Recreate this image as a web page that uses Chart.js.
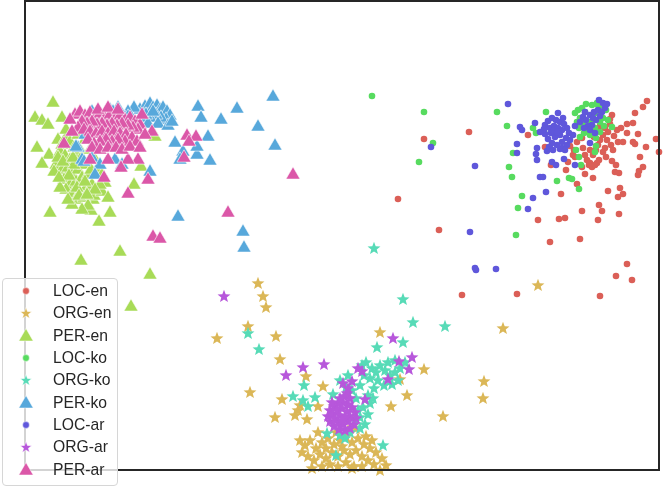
<!DOCTYPE html>
<html>
<head>
<meta charset="utf-8">
<script src="https://cdn.jsdelivr.net/npm/chart.js@4.4.0/dist/chart.umd.min.js"></script>
<style>
  html, body { margin: 0; padding: 0; background: #fff; }
  #wrap { position: relative; width: 664px; height: 486px; overflow: hidden; }
  #legend { position: absolute; left: 2px; top: 278px; width: 114px; height: 206px;
    border: 1px solid #d6d6d6; border-radius: 4px; background: rgba(255,255,255,0.8);
    font-family: "Liberation Sans", Arial, sans-serif; font-size: 15.7px; color: #262626; }
  .item { position: absolute; left: 0; height: 20px; width: 114px; }
  .item svg { position: absolute; left: 13px; top: 0; }
  .item span { position: absolute; left: 50px; top: 1px; line-height: 18px; white-space: nowrap; }
</style>
</head>
<body>
<div id="wrap">
  <canvas id="c" width="664" height="486"></canvas>
  <div id="legend"></div>
</div>
<script>
const seriesNames = ["LOC-en","ORG-en","PER-en","LOC-ko","ORG-ko","PER-ko","LOC-ar","ORG-ar","PER-ar"];
const seriesColors = ["#db5f57","#dbb757","#a8db57","#57db5f","#57dbb7","#57a8db","#5f57db","#b757db","#db57a8"];

const locEn = [[469,132],[424,139],[398,199],[439,230],[462,295],[517,294],[550,242],[580,239],[600,296],[616,276],[627,264],[632,280],[538,220],[559,219],[565,218],[582,211],[561,194],[598,220],[602,211],[599,205],[619,214],[608,191],[618,197],[623,194],[620,188],[577,184],[593,178],[585,174],[597,163],[592,167],[590,163],[612,161],[616,165],[619,173],[615,172],[638,175],[639,171],[643,167],[640,157],[646,147],[659,152],[656,139],[647,101],[643,107],[635,113],[633,123],[627,124],[621,128],[638,134],[627,133],[633,142],[635,144],[623,142],[618,142],[612,115],[610,119],[608,132],[603,135],[600,140],[607,140],[605,148],[603,152],[593,155],[589,165],[595,165],[583,148],[573,155],[575,157],[577,142],[551,165],[528,135],[545,147],[582,167],[582,138],[597,130],[600,126],[605,128],[610,124],[614,136],[611,145],[598,145],[596,150],[606,157],[599,160],[587,160],[613,150],[617,130],[594,137],[590,150],[585,155],[574,150],[570,146],[566,170],[568,162]];

const orgEn = [[258,283],[263,296],[266,307],[248,326],[217,338],[276,336],[280,359],[250,392],[282,399],[275,417],[306,376],[323,386],[318,406],[307,419],[295,415],[298,410],[300,405],[380,332],[424,369],[400,379],[407,395],[391,406],[443,416],[484,381],[483,398],[503,328],[538,285],[305,445],[310,440],[316,448],[322,442],[328,438],[334,444],[340,440],[346,436],[352,442],[358,438],[364,444],[370,448],[376,452],[382,458],[386,465],[302,452],[308,456],[314,460],[320,454],[326,458],[332,452],[338,456],[344,450],[350,454],[356,450],[362,456],[368,460],[374,464],[330,464],[338,466],[346,462],[354,466],[322,466],[312,468],[362,466],[342,446],[336,432],[348,430],[356,428],[318,432],[326,448],[352,468],[380,470],[300,440],[366,436],[372,440]];

const perEn = [[53,103],[35,118],[42,121],[48,125],[62,118],[37,148],[49,155],[42,164],[50,213],[99,222],[91,211],[110,213],[93,200],[120,252],[81,261],[150,275],[131,307],[134,185],[141,167],[155,137],[58,140],[62,145],[66,138],[70,142],[74,148],[60,152],[65,156],[70,160],[75,155],[80,150],[56,165],[62,170],[68,168],[72,174],[78,170],[84,165],[64,180],[70,185],[76,182],[82,178],[88,175],[66,190],[72,195],[80,192],[86,188],[92,185],[76,200],[84,198],[98,168],[102,175],[105,183],[95,160],[90,150],[85,140],[78,135],[66,130],[88,130],[54,172],[60,188],[94,196],[102,192],[108,198],[88,206],[82,210],[72,205],[68,200],[100,185],[58,158],[80,160],[74,165],[63,162],[69,176],[77,188],[85,182],[91,170],[59,178],[95,190],[79,196],[87,195],[73,158]];

const locKo = [[372,96],[424,112],[433,143],[419,162],[497,112],[507,126],[546,112],[536,133],[513,153],[509,167],[512,177],[522,196],[518,208],[516,235],[557,181],[569,178],[572,179],[579,189],[579,157],[581,165],[576,150],[580,137],[596,146],[595,152],[612,127],[597,103],[544,132],[533,128],[578,110],[582,108],[585,112],[580,118],[583,125],[588,130],[584,133],[590,122],[595,128],[600,122],[603,118],[598,105],[602,108],[606,110],[592,105],[586,104],[579,128],[590,135],[596,138],[577,122],[600,132],[604,126],[575,113],[608,120],[596,113]];

const orgKo = [[374,248],[403,299],[413,322],[445,326],[248,333],[259,349],[377,347],[403,342],[304,385],[293,396],[315,397],[308,406],[303,400],[333,394],[383,445],[336,455],[327,433],[363,407],[370,403],[360,417],[362,365],[366,362],[372,368],[376,372],[380,365],[385,370],[390,375],[395,372],[400,368],[405,362],[388,362],[378,380],[370,378],[364,375],[384,385],[392,384],[398,380],[374,388],[360,385],[395,360],[355,420],[360,428],[365,424],[368,414],[358,410],[350,432],[345,438],[340,435],[356,398],[352,390],[346,387],[340,380],[348,375],[368,395],[373,398]];

const perKo = [[273,97],[237,109],[221,120],[258,127],[275,146],[208,137],[210,161],[197,155],[198,107],[201,118],[178,217],[243,232],[244,248],[150,172],[175,143],[183,152],[197,147],[180,160],[140,110],[145,107],[150,104],[153,108],[157,106],[160,110],[163,108],[167,112],[170,116],[166,120],[161,118],[156,115],[150,118],[146,115],[142,118],[139,124],[148,124],[158,124],[168,126],[172,122],[153,112],[134,108],[128,112],[118,108],[110,110],[88,125],[85,135],[78,148],[92,158],[100,165],[115,160],[120,140],[125,118],[82,160],[95,175],[113,112],[92,112],[128,117],[76,147],[84,162],[122,165]];

const locAr = [[508,104],[431,147],[475,166],[470,232],[475,268],[476,270],[496,269],[528,209],[533,198],[546,192],[540,177],[543,177],[552,162],[556,165],[564,159],[537,160],[536,154],[537,148],[517,144],[517,153],[520,127],[522,130],[535,123],[547,151],[550,148],[560,149],[562,148],[567,145],[573,135],[575,126],[575,165],[590,143],[545,125],[548,121],[552,118],[556,120],[560,122],[564,124],[567,128],[569,133],[566,138],[562,142],[557,145],[552,143],[548,139],[545,134],[544,129],[550,128],[554,126],[558,128],[562,130],[560,135],[555,137],[551,133],[553,131],[557,132],[549,147],[553,150],[565,150],[570,140],[540,132],[558,113],[563,118],[583,117],[586,120],[590,115],[594,112],[598,110],[602,112],[605,108],[600,116],[596,120],[592,125],[588,126],[584,128],[590,130],[595,133],[585,112],[607,104],[599,100],[603,103],[580,122],[593,118]];

const orgAr = [[224,296],[393,338],[412,357],[399,361],[409,369],[388,379],[362,371],[303,367],[324,364],[286,375],[343,383],[352,381],[347,393],[365,399],[348,388],[358,368],[330,410],[334,406],[338,403],[343,402],[348,404],[352,407],[355,412],[356,418],[354,424],[350,428],[345,430],[339,429],[334,426],[330,421],[328,416],[333,414],[337,410],[342,408],[347,411],[350,416],[348,421],[343,424],[338,422],[335,418],[340,415],[345,417],[342,420],[332,402],[350,398],[344,396],[340,398]];

const perAr = [[293,175],[228,213],[153,237],[160,239],[148,180],[128,194],[104,178],[187,136],[196,137],[189,142],[184,158],[152,132],[64,144],[138,160],[128,160],[121,168],[108,160],[90,160],[75,115],[80,112],[85,116],[90,113],[95,117],[100,114],[105,118],[110,115],[115,119],[120,116],[125,120],[130,118],[135,122],[140,125],[138,130],[133,128],[128,126],[122,124],[117,126],[112,124],[107,126],[102,124],[97,125],[92,122],[87,124],[82,122],[78,128],[84,130],[90,132],[96,134],[102,132],[108,134],[114,132],[120,134],[126,135],[132,138],[137,142],[125,142],[118,140],[112,142],[106,140],[100,142],[94,144],[88,140],[92,148],[100,150],[108,148],[116,148],[122,150],[130,147],[98,110],[108,108],[118,110],[70,120],[72,132],[142,115],[140,148],[145,135]];

const seriesData = [locEn, orgEn, perEn, locKo, orgKo, perKo, locAr, orgAr, perAr];
const seriesKind = ["circle","star","triangle","circle","star","triangle","circle","star","triangle"];

function starPoints(cx, cy, R) {
  const r = R * 0.42, pts = [];
  for (let i = 0; i < 10; i++) {
    const a = -Math.PI / 2 + i * Math.PI / 5;
    const rr = i % 2 === 0 ? R : r;
    pts.push([cx + rr * Math.cos(a), cy + rr * Math.sin(a)]);
  }
  return pts;
}
function makeStar(color) {
  const s = 16, cv = document.createElement('canvas');
  cv.width = s; cv.height = s;
  const ctx = cv.getContext('2d');
  const pts = starPoints(s / 2, s / 2 + 0.6, 6.8);
  ctx.beginPath();
  pts.forEach((p, i) => i ? ctx.lineTo(p[0], p[1]) : ctx.moveTo(p[0], p[1]));
  ctx.closePath();
  ctx.fillStyle = color; ctx.fill();
  return cv;
}

const datasets = seriesNames.map((name, i) => {
  const kind = seriesKind[i];
  const ds = {
    label: name,
    data: seriesData[i].map(p => ({ x: p[0], y: p[1] })),
    backgroundColor: seriesColors[i],
    borderColor: '#ffffff',
    borderWidth: 0.6,
    order: 9 - i,
    clip: false
  };
  if (kind === 'circle') { ds.pointStyle = 'circle'; ds.pointRadius = 3.3; ds.borderWidth = 0; }
  else if (kind === 'triangle') { ds.pointStyle = 'triangle'; ds.pointRadius = 8.2; }
  else { ds.pointStyle = makeStar(seriesColors[i]); ds.pointRadius = 7; }
  ds.pointHoverRadius = ds.pointRadius;
  return ds;
});

const framePlugin = {
  id: 'frame',
  afterDatasetsDraw(chart) {
    const a = chart.chartArea, ctx = chart.ctx;
    ctx.save();
    ctx.strokeStyle = '#262626';
    ctx.lineWidth = 2;
    ctx.strokeRect(a.left, a.top, a.right - a.left, a.bottom - a.top);
    ctx.restore();
  }
};

new Chart(document.getElementById('c'), {
  type: 'scatter',
  data: { datasets },
  options: {
    responsive: false,
    animation: false,
    devicePixelRatio: 1,
    layout: { autoPadding: false, padding: { left: 25, top: 1, right: 5, bottom: 16 } },
    scales: {
      x: { type: 'linear', min: 25, max: 659, display: false },
      y: { type: 'linear', min: 1, max: 470, reverse: true, display: false }
    },
    plugins: { legend: { display: false }, tooltip: { enabled: false } }
  },
  plugins: [framePlugin]
});

// legend
const leg = document.getElementById('legend');
const ns = 'http://www.w3.org/2000/svg';
seriesNames.forEach((name, i) => {
  const item = document.createElement('div');
  item.className = 'item';
  item.style.top = (2 + i * 22.35) + 'px';
  const svg = document.createElementNS(ns, 'svg');
  svg.setAttribute('width', '20'); svg.setAttribute('height', '20');
  let shape;
  const kind = seriesKind[i];
  if (kind === 'circle') {
    shape = document.createElementNS(ns, 'circle');
    shape.setAttribute('cx', '10'); shape.setAttribute('cy', '10'); shape.setAttribute('r', '3.4');
  } else if (kind === 'triangle') {
    shape = document.createElementNS(ns, 'polygon');
    shape.setAttribute('points', '10,2.5 17.2,15 2.8,15');
  } else {
    shape = document.createElementNS(ns, 'polygon');
    shape.setAttribute('points', starPoints(10, 10.5, 6).map(p => p.join(',')).join(' '));
  }
  shape.setAttribute('fill', seriesColors[i]);
  shape.setAttribute('stroke', '#ffffff');
  shape.setAttribute('stroke-width', '0.5');
  svg.appendChild(shape);
  const sp = document.createElement('span');
  sp.textContent = name;
  item.appendChild(svg); item.appendChild(sp);
  leg.appendChild(item);
});
</script>
</body>
</html>
